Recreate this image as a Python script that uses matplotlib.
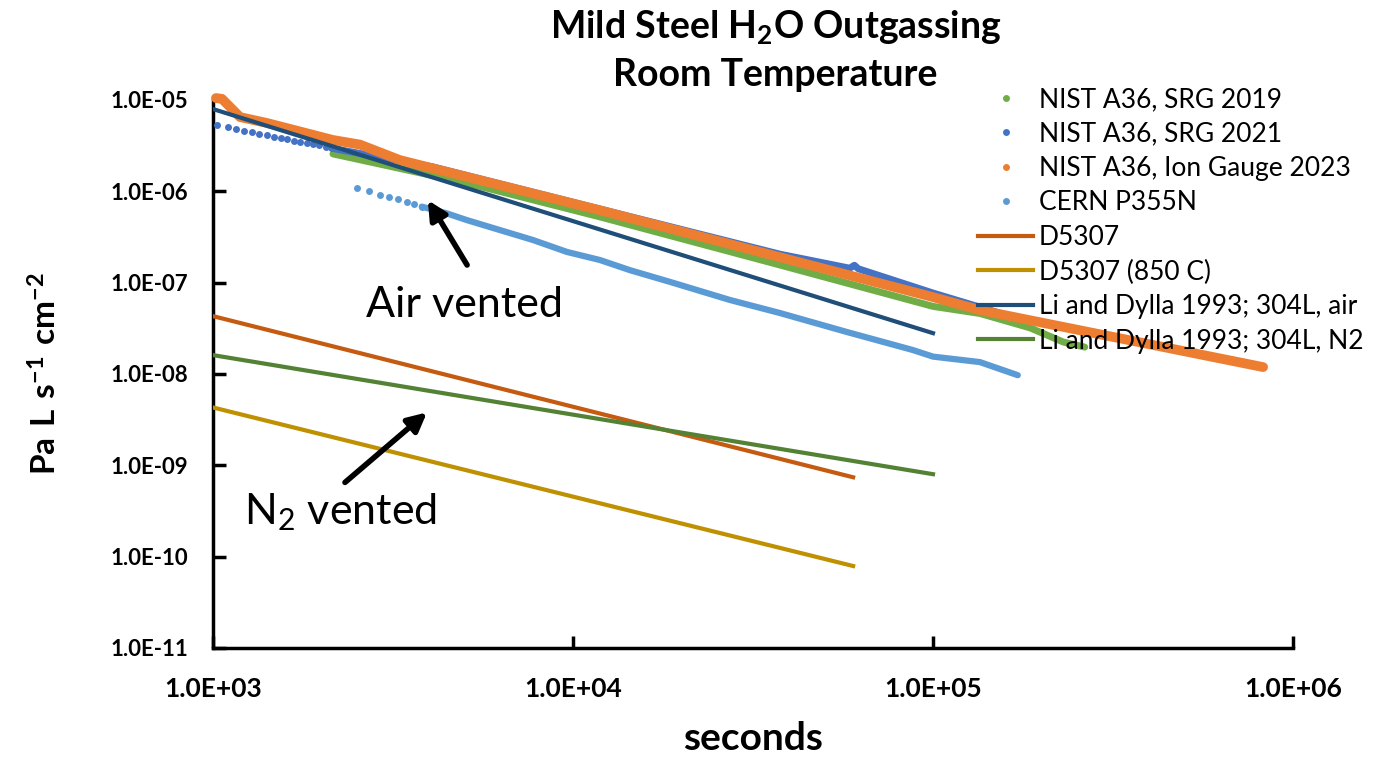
import matplotlib
matplotlib.use("Agg")
import matplotlib.pyplot as plt
from matplotlib.lines import Line2D
from matplotlib.ticker import FuncFormatter, LogLocator

plt.rcParams['font.family'] = ['Lato', 'DejaVu Sans']
plt.rcParams['mathtext.fontset'] = 'custom'
plt.rcParams['mathtext.rm'] = 'Lato'
plt.rcParams['mathtext.bf'] = 'Lato:bold'

# NIST A36, SRG 2019 (dense trace)
srg2019_t = [2154, 5080, 11885, 37580, 100000, 135000, 186000, 230000, 264000]
srg2019_r = [2.57e-6, 1.23e-6, 5.25e-7, 1.56e-7, 5.5e-8, 4.6e-8, 3.2e-8, 2.24e-8, 1.97e-8]

# NIST A36, SRG 2021 (sparse dots at start, then dense trace)
srg2021_dot_t = [1024, 1103, 1158, 1219, 1281, 1345, 1410, 1477, 1542, 1608,
                 1679, 1745, 1821, 1900, 1974, 2060, 2137]
srg2021_dot_r = [5.32e-6, 5.02e-6, 4.78e-6, 4.61e-6, 4.43e-6, 4.24e-6, 4.14e-6, 3.97e-6, 3.81e-6, 3.71e-6,
                 3.58e-6, 3.47e-6, 3.36e-6, 3.30e-6, 3.21e-6, 3.08e-6, 2.96e-6]
srg2021_t = [2137, 4083, 11885, 37580, 58700, 60500, 62000, 100000, 153000]
srg2021_r = [2.96e-6, 1.85e-6, 6.4e-7, 2.05e-7, 1.44e-7, 1.55e-7, 1.42e-7, 7.7e-8, 4.65e-8]

# NIST A36, Ion Gauge 2023 (dense trace)
ion_t = [1019, 1059, 1189, 1413, 2154, 2560, 3304, 11885, 37580, 100000, 135000, 826000]
ion_r = [1.05e-5, 1.03e-5, 6.5e-6, 5.6e-6, 3.65e-6, 3.25e-6, 2.2e-6, 6.2e-7, 1.9e-7, 6.95e-8, 5.0e-8, 1.19e-8]

# CERN P355N (sparse dots at start, then dense trace)
cern_dot_t = [2506, 2716, 2909, 3083, 3259, 3451, 3623, 3800]
cern_dot_r = [1.08e-6, 1.01e-6, 9.1e-7, 8.6e-7, 8.2e-7, 7.58e-7, 7.2e-7, 6.8e-7]
cern_t = [3800, 4458, 5066, 5995, 7743, 9620, 11880, 14400, 18590, 27300, 37580,
          57700, 87900, 100000, 135000, 172000]
cern_r = [6.8e-7, 5.74e-7, 4.85e-7, 3.97e-7, 2.93e-7, 2.17e-7, 1.77e-7, 1.37e-7, 1.02e-7, 6.46e-8, 4.65e-8,
          2.88e-8, 1.83e-8, 1.55e-8, 1.35e-8, 9.7e-9]

# model lines
d5307_t = [1000, 60000]
d5307_r = [4.3e-8, 7.4e-10]
d5307_850_t = [1000, 60000]
d5307_850_r = [4.3e-9, 7.9e-11]
li_air_t = [1000, 100000]
li_air_r = [7.96e-6, 2.8e-8]
li_n2_t = [1000, 100000]
li_n2_r = [1.61e-8, 8.0e-10]

c_green = '#70AD47'
c_blue = '#4472C4'
c_orange = '#ED7D31'
c_lblue = '#5B9BD5'
c_d5307 = '#C55A11'
c_gold = '#BF9000'
c_navy = '#1F4E79'
c_dgreen = '#548235'

fig = plt.figure(figsize=(13.92, 7.6), dpi=100)
ax = fig.add_axes([213 / 1392, 1 - 648 / 760, 1080 / 1392, 548 / 760])

ax.plot(srg2019_t, srg2019_r, color=c_green, lw=5, solid_capstyle='round', zorder=2)
ax.plot(srg2021_t, srg2021_r, color=c_blue, lw=5, solid_capstyle='round', zorder=3)
ax.plot(srg2021_dot_t, srg2021_dot_r, 'o', color=c_blue, ms=5, mec='none', zorder=3, clip_on=False)
ax.plot(ion_t, ion_r, color=c_orange, lw=7, solid_capstyle='round', solid_joinstyle='round', zorder=4,
        clip_on=False)
ax.plot(cern_dot_t, cern_dot_r, 'o', color=c_lblue, ms=5, mec='none', zorder=5)
ax.plot(cern_t, cern_r, color=c_lblue, lw=4.5, solid_capstyle='round', zorder=5)
ax.plot(d5307_t, d5307_r, color=c_d5307, lw=3, zorder=6)
ax.plot(d5307_850_t, d5307_850_r, color=c_gold, lw=3, zorder=6)
ax.plot(li_air_t, li_air_r, color=c_navy, lw=3, zorder=6)
ax.plot(li_n2_t, li_n2_r, color=c_dgreen, lw=3, zorder=6)

ax.set_xscale('log')
ax.set_yscale('log')
ax.set_xlim(1e3, 1e6)
ax.set_ylim(1e-11, 1e-5)
ax.xaxis.set_major_locator(LogLocator(base=10, numticks=10))
ax.yaxis.set_major_locator(LogLocator(base=10, numticks=10))
ax.xaxis.set_minor_locator(plt.NullLocator())
ax.yaxis.set_minor_locator(plt.NullLocator())
fmt = FuncFormatter(lambda v, p: f"{v:.1E}")
ax.xaxis.set_major_formatter(fmt)
ax.yaxis.set_major_formatter(fmt)

for s in ['top', 'right']:
    ax.spines[s].set_visible(False)
for s in ['left', 'bottom']:
    ax.spines[s].set_linewidth(2.5)
ax.tick_params(axis='both', which='major', direction='in', length=9, width=2.5)
ax.tick_params(axis='y', pad=18, labelsize=16)
ax.tick_params(axis='x', pad=21, labelsize=19)
for lab in ax.get_xticklabels() + ax.get_yticklabels():
    lab.set_fontweight('bold')

ax.set_xlabel('seconds', fontsize=28, fontweight='bold', labelpad=14)
ax.set_ylabel(r'$\mathbf{Pa\ L\ s^{-1}\ cm^{-2}}$', fontsize=24, labelpad=34)

fig.text(0.557, 1 - 28 / 760, r'Mild Steel H$_\mathbf{2}$O Outgassing', ha='center', va='center',
         fontsize=27, fontweight='bold')
fig.text(0.557, 1 - 75 / 760, 'Room Temperature', ha='center', va='center',
         fontsize=27, fontweight='bold')

# annotations
arrow = dict(arrowstyle='-|>', lw=4, color='black', mutation_scale=28, shrinkA=0, shrinkB=0)
ax.annotate('', xy=(3953, 8.0e-7), xytext=(5080, 1.56e-7), arrowprops=arrow, zorder=8)
ax.text(5010, 5.7e-8, 'Air vented', ha='center', va='center', fontsize=31)
ax.annotate('', xy=(3930, 3.8e-9), xytext=(2326, 6.5e-10), arrowprops=arrow, zorder=8)
ax.text(2254, 3.07e-10, r'N$_2$ vented', ha='center', va='center', fontsize=31)

handles = [
    Line2D([], [], marker='o', ls='none', color=c_green, ms=5, mec='none'),
    Line2D([], [], marker='o', ls='none', color=c_blue, ms=5, mec='none'),
    Line2D([], [], marker='o', ls='none', color=c_orange, ms=5, mec='none'),
    Line2D([], [], marker='o', ls='none', color=c_lblue, ms=5, mec='none'),
    Line2D([], [], color=c_d5307, lw=3),
    Line2D([], [], color=c_gold, lw=3),
    Line2D([], [], color=c_navy, lw=3),
    Line2D([], [], color=c_dgreen, lw=3),
]
labels = ['NIST A36, SRG 2019', 'NIST A36, SRG 2021', 'NIST A36, Ion Gauge 2023', 'CERN P355N',
          'D5307', 'D5307 (850 C)', 'Li and Dylla 1993; 304L, air', 'Li and Dylla 1993; 304L, N2']
leg = fig.legend(handles, labels, loc='upper left', bbox_to_anchor=(978 / 1392, 1 - 87 / 760),
                 frameon=False, fontsize=19, handlelength=2.1, handletextpad=0.2,
                 labelspacing=0.36, borderpad=0, borderaxespad=0)

fig.savefig('out.png', dpi=100)
